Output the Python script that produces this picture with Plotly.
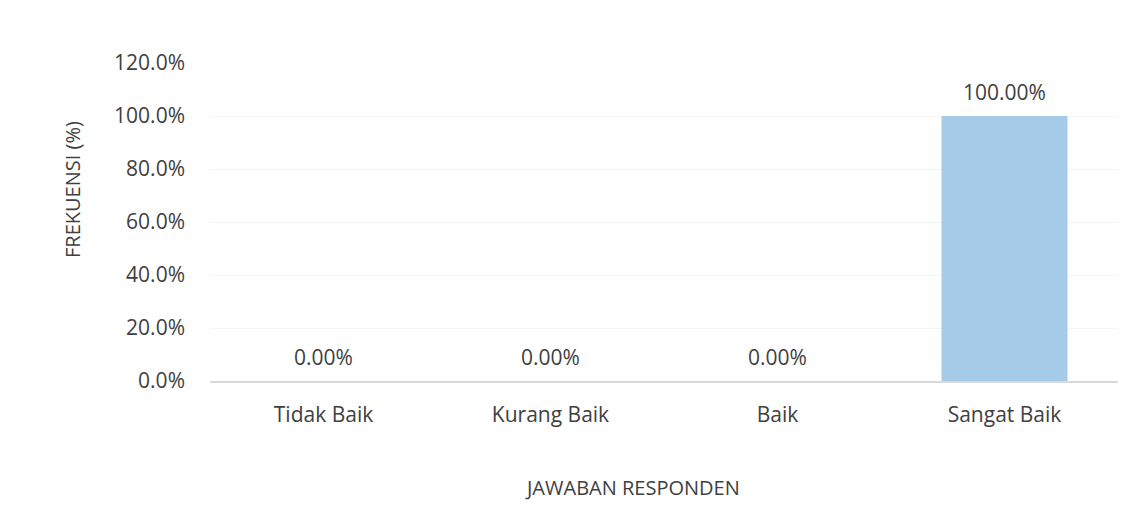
import plotly.graph_objects as go

categories = ["Tidak Baik", "Kurang Baik", "Baik", "Sangat Baik"]
values = [0.0, 0.0, 0.0, 100.0]
y_ticks = [0, 20, 40, 60, 80, 100, 120]
y_tick_labels = [f"{v:.1f}%" for v in y_ticks]
value_labels = [f"{v:.2f}%" for v in values]
x_title = "JAWABAN RESPONDEN"
y_title = "FREKUENSI (%)"

font_family = "'Open Sans', Lato, sans-serif"
text_color = "#404040"
fsize = 21

fig = go.Figure(
    go.Bar(
        x=categories,
        y=values,
        width=0.555,
        marker=dict(color="#A6CBE8", line=dict(width=0)),
        hoverinfo="skip",
    )
)

for cat, val, lab in zip(categories, values, value_labels):
    fig.add_annotation(
        x=cat, y=val, text=lab, showarrow=False,
        yanchor="bottom", yshift=8,
        font=dict(family=font_family, size=fsize, color=text_color),
    )

# axis titles (placed like the original, slightly off-centre)
fig.add_annotation(
    xref="paper", yref="paper", x=(632 - 210) / 908, y=(381 - 487) / 318,
    text=x_title, showarrow=False, xanchor="center", yanchor="middle",
    font=dict(family=font_family, size=fsize - 1, color=text_color),
)
fig.add_annotation(
    xref="paper", yref="paper", x=(72 - 210) / 908, y=(381 - 190) / 318,
    text=y_title, showarrow=False, textangle=-90, xanchor="center", yanchor="middle",
    font=dict(family=font_family, size=fsize - 1, color=text_color),
)

fig.update_layout(
    width=1140,
    height=509,
    margin=dict(l=210, r=22, t=63, b=128),
    paper_bgcolor="white",
    plot_bgcolor="white",
    showlegend=False,
    font=dict(family=font_family, size=fsize, color=text_color),
)

fig.update_xaxes(
    showline=True,
    linecolor="#D9D9D9",
    linewidth=1.5,
    showgrid=False,
    ticks="outside",
    ticklen=14,
    tickcolor="rgba(0,0,0,0)",
    tickfont=dict(family=font_family, size=fsize, color=text_color),
)

fig.update_yaxes(
    range=[0, 120],
    tickvals=y_ticks,
    ticktext=y_tick_labels,
    showgrid=True,
    gridcolor="#F4F4F4",
    zeroline=False,
    showline=False,
    ticks="",
    ticklabelstandoff=24,
    tickfont=dict(family=font_family, size=fsize, color=text_color),
)

fig.write_html("out.html")
